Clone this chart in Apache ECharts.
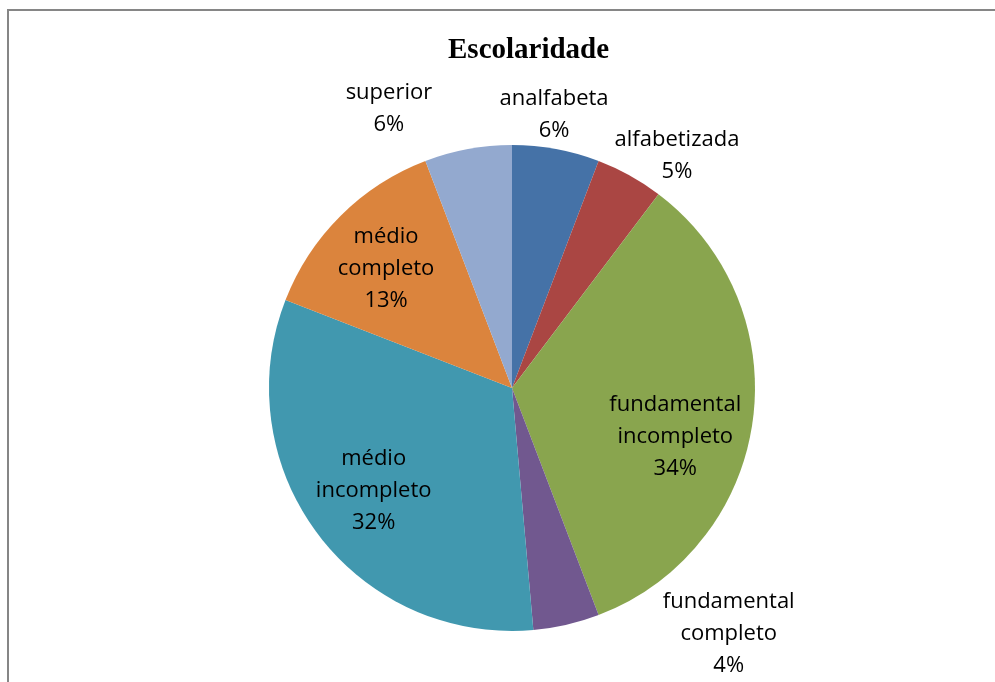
<!DOCTYPE html>
<html>
<head>
<meta charset="utf-8">
<script src="https://cdn.jsdelivr.net/npm/echarts@6/dist/echarts.min.js"></script>
<style>
html,body{margin:0;padding:0;background:#fff;}
#chart{width:995px;height:682px;}
</style>
</head>
<body>
<div id="chart"></div>
<script>
// Data
const titleText = 'Escolaridade';
const categories = ['analfabeta', 'alfabetizada', 'fundamental incompleto', 'fundamental completo', 'médio incompleto', 'médio completo', 'superior'];
const values = [5.8, 4.5, 33.9, 4.4, 32.3, 13.3, 5.8];

// Styling
const colors = ['#4572A7', '#AA4643', '#89A54E', '#71588F', '#4198AF', '#DB843D', '#93A9CF'];
const insideIdx = [2, 4, 5];
const nudge = { 0: [-11, 15], 1: [23, 24], 2: [-8, 24], 3: [151, -40], 4: [0, -1], 5: [-4, 3], 6: [-70, 9] };

const center = [512, 388];
const fmt = p => p.name.replace(/ /g, '\n') + '\n' + Math.round(p.percent) + '%';
const labelStyle = { fontFamily: 'Open Sans', fontSize: 22, color: '#000', lineHeight: 32, align: 'center' };

function labelData(showSet) {
  return categories.map((c, i) => ({
    name: c, value: values[i],
    label: { show: showSet.includes(i) }
  }));
}

const chart = echarts.init(document.getElementById('chart'));
chart.setOption({
  animation: false,
  title: {
    text: titleText, left: 443, top: 31,
    textStyle: { fontFamily: 'Liberation Serif', fontWeight: 'bold', fontSize: 29, color: '#000' }
  },
  graphic: [{
    type: 'rect', silent: true,
    shape: { x: 8, y: 10, width: 1000, height: 700 },
    style: { fill: 'none', stroke: '#868686', lineWidth: 2 }
  }],
  series: [
    {
      type: 'pie', center: center, radius: 243, startAngle: 90, clockwise: true,
      silent: true, label: { show: false }, labelLine: { show: false },
      data: categories.map((c, i) => ({ name: c, value: values[i], itemStyle: { color: colors[i] } }))
    },
    {
      type: 'pie', center: center, radius: [0, 340], startAngle: 90, clockwise: true,
      silent: true, avoidLabelOverlap: false,
      itemStyle: { color: 'rgba(0,0,0,0)' },
      label: Object.assign({ position: 'inside', formatter: fmt }, labelStyle),
      labelLine: { show: false },
      labelLayout: p => ({ dx: nudge[p.dataIndex][0], dy: nudge[p.dataIndex][1] }),
      data: labelData(insideIdx)
    },
    {
      type: 'pie', center: center, radius: [0, 580], startAngle: 90, clockwise: true,
      silent: true, avoidLabelOverlap: false,
      itemStyle: { color: 'rgba(0,0,0,0)' },
      label: Object.assign({ position: 'inside', formatter: fmt }, labelStyle),
      labelLine: { show: false },
      labelLayout: p => ({ dx: nudge[p.dataIndex][0], dy: nudge[p.dataIndex][1] }),
      data: labelData([0, 1, 3, 6])
    }
  ]
});
</script>
</body>
</html>
